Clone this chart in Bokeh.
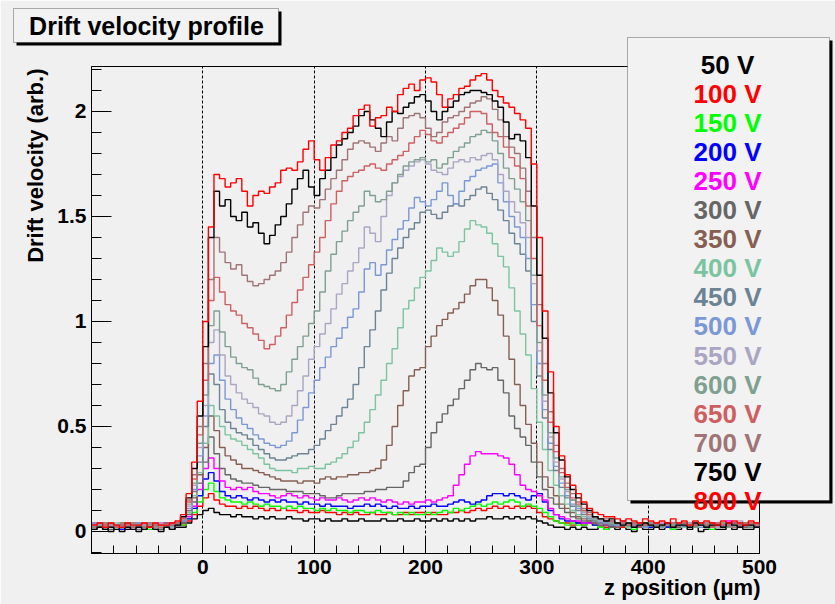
import math
from bokeh.plotting import figure
from bokeh.models import Label, BoxAnnotation, FixedTicker, Range1d, CustomJSTickFormatter
from bokeh.embed import file_html
from bokeh.resources import INLINE

# ---------------- data ----------------
bin_edges = list(range(-100, 505, 5))          # 5 um bins, -100 .. 500

labels = ["50 V", "100 V", "150 V", "200 V", "250 V", "300 V", "350 V", "400 V",
          "450 V", "500 V", "550 V", "600 V", "650 V", "700 V", "750 V", "800 V"]
colors = ["#000000", "#ff0000", "#00ff00", "#0000ff", "#ff00ff", "#666666", "#875f52", "#7cc49f",
          "#6c8394", "#7b98d6", "#aaa5c2", "#7fa091", "#cf5e61", "#a07476", "#000000", "#ff0000"]

v050 = [0.01,0.02,0.01,0.00,0.02,0.01,0.01,0.02,0.00,0.01,0.02,0.01,0.01,0.02,0.01,0.02,0.02,0.04,0.06,0.08,
        0.10,0.11,0.09,0.08,0.08,0.07,0.08,0.07,0.07,0.06,
        0.07,0.06,0.07,0.06,0.06,0.07,0.06,0.06,0.05,0.06,
        0.06,0.05,0.06,0.05,0.05,0.06,0.05,0.05,0.06,0.05,
        0.05,0.05,0.06,0.05,0.05,0.06,0.05,0.05,0.06,0.05,
        0.05,0.06,0.05,0.06,0.05,0.06,0.05,0.06,0.05,0.06,
        0.06,0.07,0.06,0.06,0.07,0.06,0.07,0.06,0.07,0.06,
        0.05,0.04,0.03,0.02,0.02,0.01,0.02,0.01,0.02,0.01,
        0.01,0.02,0.01,0.02,0.01,0.02,0.01,0.00,0.02,0.01,
        0.01,0.02,0.01,0.02,0.01,0.01,0.02,0.01,0.02,0.00,
        0.01,0.02,0.01,0.01,0.02,0.01,0.02,0.01,0.01,0.02]
v100 = [0.03,0.02,0.04,0.02,0.03,0.02,0.03,0.04,0.02,0.03,0.02,0.04,0.03,0.02,0.03,0.04,0.03,0.05,0.08,0.12,
        0.16,0.18,0.15,0.13,0.12,0.12,0.11,0.12,0.11,0.12,
        0.11,0.10,0.11,0.10,0.11,0.10,0.10,0.09,0.10,0.09,
        0.09,0.10,0.09,0.09,0.08,0.09,0.08,0.09,0.08,0.08,
        0.09,0.08,0.08,0.09,0.08,0.08,0.09,0.08,0.09,0.09,
        0.08,0.09,0.08,0.08,0.09,0.09,0.10,0.09,0.10,0.11,
        0.10,0.11,0.12,0.11,0.12,0.11,0.12,0.11,0.12,0.11,
        0.09,0.07,0.06,0.05,0.04,0.04,0.03,0.04,0.03,0.04,
        0.03,0.04,0.02,0.03,0.03,0.02,0.04,0.03,0.02,0.03,
        0.03,0.04,0.02,0.03,0.02,0.03,0.04,0.02,0.03,0.03,
        0.02,0.04,0.03,0.02,0.03,0.03,0.02,0.03,0.04,0.03]
v150 = [0.02,0.03,0.02,0.03,0.01,0.03,0.02,0.02,0.03,0.02,0.01,0.03,0.02,0.03,0.02,0.03,0.03,0.06,0.09,0.14,
        0.20,0.23,0.19,0.16,0.15,0.14,0.14,0.13,0.14,0.13,
        0.12,0.13,0.12,0.12,0.11,0.12,0.11,0.12,0.11,0.11,
        0.10,0.11,0.10,0.11,0.10,0.10,0.09,0.10,0.10,0.09,
        0.09,0.10,0.09,0.09,0.08,0.09,0.08,0.09,0.08,0.08,
        0.09,0.08,0.09,0.10,0.09,0.11,0.10,0.11,0.12,0.13,
        0.12,0.13,0.14,0.13,0.14,0.15,0.14,0.12,0.13,0.12,
        0.11,0.09,0.07,0.05,0.04,0.03,0.04,0.03,0.03,0.04,
        0.03,0.02,0.01,0.03,0.02,0.03,0.02,0.01,0.03,0.02,
        0.02,0.03,0.02,0.03,0.01,0.02,0.03,0.02,0.02,0.03,
        0.02,0.01,0.03,0.02,0.03,0.02,0.02,0.03,0.02,0.02]
v200 = [0.04,0.02,0.03,0.02,0.03,0.01,0.03,0.02,0.04,0.02,0.03,0.02,0.03,0.04,0.02,0.03,0.04,0.06,0.11,0.17,
        0.25,0.28,0.24,0.19,0.17,0.16,0.17,0.16,0.15,0.16,
        0.15,0.14,0.15,0.14,0.15,0.14,0.14,0.13,0.14,0.13,
        0.13,0.12,0.13,0.12,0.12,0.12,0.11,0.12,0.12,0.13,
        0.12,0.13,0.12,0.11,0.12,0.11,0.11,0.12,0.11,0.12,
        0.12,0.13,0.12,0.12,0.13,0.14,0.15,0.14,0.13,0.14,
        0.15,0.17,0.18,0.18,0.17,0.18,0.17,0.16,0.15,0.17,
        0.18,0.14,0.10,0.08,0.06,0.05,0.05,0.04,0.04,0.04,
        0.03,0.04,0.03,0.02,0.04,0.03,0.03,0.02,0.03,0.04,
        0.02,0.03,0.03,0.02,0.04,0.03,0.02,0.03,0.03,0.04,
        0.02,0.03,0.03,0.02,0.03,0.04,0.03,0.02,0.03,0.03]
v250 = [0.03,0.04,0.02,0.03,0.02,0.03,0.02,0.01,0.03,0.02,0.03,0.02,0.04,0.02,0.03,0.03,0.04,0.07,0.12,0.20,
        0.30,0.35,0.30,0.24,0.21,0.20,0.21,0.20,0.21,0.19,
        0.18,0.18,0.17,0.16,0.17,0.18,0.17,0.16,0.17,0.16,
        0.15,0.16,0.15,0.15,0.16,0.15,0.14,0.15,0.16,0.15,
        0.16,0.15,0.14,0.15,0.14,0.13,0.14,0.13,0.14,0.14,
        0.15,0.14,0.15,0.16,0.17,0.22,0.27,0.32,0.36,0.38,
        0.37,0.37,0.37,0.36,0.35,0.32,0.27,0.22,0.20,0.19,
        0.17,0.15,0.11,0.08,0.07,0.06,0.05,0.05,0.04,0.04,
        0.04,0.03,0.03,0.04,0.02,0.03,0.04,0.03,0.02,0.03,
        0.03,0.02,0.04,0.03,0.03,0.02,0.03,0.04,0.02,0.03,
        0.03,0.04,0.02,0.03,0.05,0.03,0.02,0.03,0.03,0.02]
v300 = [0.02,0.03,0.02,0.01,0.03,0.02,0.03,0.02,0.02,0.03,0.02,0.03,0.01,0.03,0.02,0.04,0.04,0.08,0.14,0.23,
        0.33,0.45,0.37,0.30,0.27,0.25,0.24,0.23,0.23,0.22,
        0.21,0.21,0.20,0.20,0.20,0.19,0.19,0.19,0.18,0.18,
        0.18,0.17,0.16,0.16,0.17,0.18,0.18,0.18,0.18,0.19,
        0.19,0.20,0.20,0.21,0.21,0.21,0.24,0.28,0.31,0.32,
        0.40,0.47,0.52,0.56,0.60,0.63,0.68,0.72,0.77,0.80,
        0.78,0.77,0.78,0.72,0.66,0.55,0.49,0.45,0.41,0.33,
        0.26,0.20,0.16,0.13,0.11,0.09,0.07,0.06,0.05,0.05,
        0.04,0.03,0.04,0.02,0.03,0.03,0.02,0.04,0.03,0.02,
        0.03,0.03,0.02,0.03,0.04,0.02,0.03,0.02,0.03,0.03,
        0.04,0.02,0.03,0.03,0.02,0.03,0.02,0.04,0.03,0.03]
v350 = [0.03,0.02,0.03,0.03,0.02,0.04,0.02,0.03,0.02,0.02,0.03,0.02,0.03,0.02,0.04,0.03,0.04,0.09,0.16,0.27,
        0.40,0.55,0.48,0.40,0.36,0.34,0.32,0.30,0.30,0.29,
        0.28,0.27,0.26,0.25,0.24,0.24,0.24,0.23,0.24,0.24,
        0.23,0.25,0.26,0.25,0.26,0.26,0.27,0.27,0.28,0.28,
        0.29,0.30,0.34,0.41,0.50,0.60,0.67,0.74,0.77,0.78,
        0.88,0.93,0.98,1.01,1.04,1.06,1.09,1.13,1.17,1.20,
        1.20,1.16,1.10,1.03,0.93,0.82,0.70,0.60,0.51,0.42,
        0.33,0.26,0.21,0.17,0.13,0.11,0.09,0.07,0.06,0.05,
        0.04,0.04,0.03,0.03,0.02,0.04,0.03,0.03,0.02,0.03,
        0.04,0.02,0.03,0.03,0.02,0.03,0.04,0.03,0.02,0.03,
        0.02,0.03,0.04,0.03,0.02,0.03,0.03,0.02,0.04,0.03]
v400 = [0.02,0.03,0.03,0.02,0.04,0.02,0.02,0.03,0.03,0.02,0.03,0.04,0.02,0.03,0.02,0.04,0.05,0.09,0.17,0.28,
        0.42,0.60,0.55,0.50,0.46,0.44,0.43,0.41,0.39,0.37,
        0.35,0.32,0.30,0.29,0.29,0.29,0.28,0.30,0.30,0.31,
        0.30,0.30,0.32,0.33,0.35,0.37,0.40,0.43,0.47,0.52,
        0.58,0.65,0.72,0.80,0.87,0.97,1.06,1.10,1.16,1.21,
        1.24,1.29,1.35,1.33,1.31,1.33,1.38,1.44,1.48,1.46,
        1.45,1.42,1.37,1.31,1.26,1.16,1.05,0.94,0.84,0.68,
        0.52,0.39,0.29,0.22,0.17,0.13,0.10,0.08,0.07,0.06,
        0.05,0.04,0.04,0.03,0.03,0.04,0.02,0.03,0.03,0.04,
        0.03,0.02,0.03,0.04,0.03,0.03,0.02,0.04,0.03,0.03,
        0.02,0.03,0.04,0.02,0.03,0.03,0.04,0.03,0.02,0.03]
v450 = [0.03,0.02,0.02,0.03,0.02,0.03,0.04,0.02,0.01,0.03,0.02,0.03,0.03,0.02,0.03,0.04,0.05,0.10,0.19,0.33,
        0.50,0.75,0.70,0.58,0.52,0.49,0.47,0.46,0.44,0.41,
        0.39,0.37,0.35,0.34,0.34,0.35,0.36,0.37,0.37,0.39,
        0.41,0.44,0.48,0.51,0.55,0.59,0.63,0.70,0.78,0.88,
        0.96,1.05,1.15,1.23,1.30,1.35,1.40,1.44,1.47,1.52,
        1.53,1.51,1.49,1.52,1.55,1.56,1.55,1.58,1.60,1.63,
        1.64,1.61,1.58,1.53,1.48,1.42,1.37,1.32,1.24,1.00,
        0.74,0.54,0.39,0.29,0.21,0.16,0.12,0.10,0.08,0.06,
        0.05,0.04,0.04,0.03,0.04,0.03,0.03,0.02,0.04,0.03,
        0.03,0.04,0.02,0.03,0.03,0.04,0.03,0.02,0.03,0.04,
        0.03,0.03,0.02,0.04,0.03,0.03,0.04,0.03,0.02,0.04]
v500 = [0.02,0.03,0.02,0.04,0.03,0.02,0.03,0.03,0.02,0.03,0.04,0.02,0.03,0.02,0.03,0.04,0.05,0.11,0.20,0.36,
        0.55,0.80,0.84,0.72,0.63,0.58,0.54,0.51,0.49,0.46,
        0.44,0.42,0.41,0.40,0.41,0.43,0.47,0.53,0.59,0.66,
        0.72,0.78,0.83,0.88,0.92,0.97,1.02,1.06,1.14,1.25,
        1.28,1.22,1.27,1.34,1.39,1.44,1.48,1.54,1.59,1.57,
        1.55,1.58,1.62,1.66,1.60,1.56,1.62,1.67,1.69,1.72,
        1.73,1.74,1.75,1.66,1.57,1.50,1.45,1.40,1.30,1.08,
        0.80,0.58,0.42,0.31,0.23,0.17,0.13,0.11,0.09,0.07,
        0.06,0.05,0.04,0.04,0.03,0.04,0.03,0.03,0.04,0.02,
        0.03,0.04,0.03,0.03,0.02,0.04,0.03,0.03,0.04,0.02,
        0.03,0.03,0.04,0.03,0.03,0.02,0.04,0.03,0.03,0.03]
v550 = [0.04,0.03,0.02,0.03,0.03,0.02,0.03,0.02,0.04,0.03,0.02,0.03,0.04,0.03,0.02,0.04,0.06,0.12,0.22,0.40,
        0.60,0.90,0.96,0.84,0.74,0.70,0.66,0.63,0.61,0.59,
        0.56,0.55,0.52,0.51,0.52,0.55,0.60,0.67,0.74,0.82,
        0.88,0.94,0.99,1.06,1.13,1.18,1.24,1.28,1.35,1.45,
        1.42,1.38,1.50,1.60,1.66,1.69,1.72,1.74,1.76,1.77,
        1.75,1.72,1.71,1.70,1.73,1.76,1.77,1.76,1.78,1.77,
        1.79,1.80,1.77,1.70,1.62,1.57,1.52,1.47,1.40,1.18,
        0.86,0.62,0.45,0.33,0.25,0.19,0.15,0.12,0.09,0.07,
        0.06,0.05,0.05,0.04,0.04,0.03,0.04,0.03,0.03,0.04,
        0.03,0.02,0.04,0.03,0.04,0.03,0.03,0.02,0.04,0.03,
        0.04,0.03,0.02,0.03,0.04,0.03,0.05,0.03,0.04,0.03]
v600 = [0.02,0.03,0.04,0.02,0.03,0.02,0.02,0.04,0.03,0.02,0.03,0.02,0.03,0.03,0.04,0.03,0.06,0.13,0.23,0.42,
        0.65,0.98,1.05,0.95,0.88,0.83,0.80,0.78,0.77,0.73,
        0.70,0.69,0.68,0.67,0.70,0.76,0.82,0.88,0.93,0.99,
        1.05,1.14,1.24,1.32,1.38,1.43,1.48,1.52,1.55,1.62,
        1.60,1.57,1.58,1.62,1.66,1.70,1.74,1.76,1.77,1.78,
        1.76,1.77,1.73,1.75,1.78,1.81,1.83,1.85,1.88,1.89,
        1.91,1.90,1.86,1.80,1.73,1.68,1.63,1.57,1.48,1.22,
        0.90,0.65,0.47,0.35,0.26,0.20,0.15,0.12,0.10,0.08,
        0.06,0.06,0.05,0.04,0.04,0.03,0.04,0.04,0.03,0.03,
        0.04,0.03,0.02,0.04,0.03,0.03,0.04,0.03,0.02,0.03,
        0.04,0.03,0.03,0.04,0.02,0.03,0.04,0.03,0.03,0.04]
v650 = [0.03,0.02,0.03,0.04,0.02,0.03,0.03,0.02,0.03,0.04,0.02,0.03,0.02,0.04,0.03,0.04,0.06,0.14,0.25,0.46,
        0.72,1.10,1.21,1.14,1.08,1.05,1.03,0.99,0.97,0.94,
        0.91,0.87,0.89,0.93,0.97,1.03,1.09,1.15,1.21,1.27,
        1.33,1.40,1.48,1.56,1.62,1.67,1.69,1.71,1.72,1.74,
        1.75,1.73,1.72,1.75,1.77,1.79,1.81,1.85,1.88,1.91,
        1.89,1.86,1.85,1.88,1.90,1.92,1.94,1.97,2.00,2.00,
        1.99,1.94,1.90,1.88,1.83,1.78,1.74,1.68,1.55,1.30,
        0.98,0.72,0.52,0.38,0.28,0.21,0.16,0.13,0.10,0.08,
        0.07,0.06,0.05,0.05,0.04,0.04,0.03,0.04,0.04,0.03,
        0.03,0.04,0.03,0.04,0.02,0.03,0.04,0.03,0.03,0.04,
        0.03,0.02,0.04,0.03,0.03,0.04,0.03,0.03,0.04,0.03]
v700 = [0.02,0.04,0.03,0.02,0.03,0.03,0.04,0.02,0.03,0.02,0.04,0.03,0.03,0.02,0.04,0.04,0.07,0.15,0.27,0.50,
        0.80,1.20,1.40,1.33,1.28,1.25,1.27,1.22,1.19,1.17,
        1.18,1.20,1.22,1.24,1.28,1.33,1.40,1.46,1.52,1.55,
        1.54,1.58,1.63,1.68,1.72,1.77,1.82,1.85,1.86,1.85,
        1.83,1.81,1.85,1.88,1.86,1.92,1.97,1.98,1.99,1.97,
        1.92,1.88,1.90,1.95,1.97,1.98,2.00,2.02,2.04,2.05,
        2.07,2.06,2.01,1.96,1.88,1.83,1.80,1.73,1.62,1.40,
        1.08,0.80,0.57,0.41,0.30,0.23,0.18,0.14,0.11,0.09,
        0.07,0.06,0.06,0.05,0.04,0.05,0.04,0.03,0.04,0.04,
        0.03,0.04,0.03,0.03,0.04,0.03,0.04,0.02,0.03,0.04,
        0.03,0.04,0.03,0.03,0.04,0.02,0.03,0.04,0.03,0.04]
v750 = [0.01,0.02,0.01,0.02,0.01,0.00,0.02,0.01,0.02,0.01,0.02,0.01,0.00,0.02,0.01,0.03,0.07,0.16,0.30,0.55,
        0.88,1.40,1.62,1.55,1.58,1.50,1.48,1.52,1.45,1.47,
        1.42,1.37,1.41,1.46,1.50,1.56,1.63,1.68,1.72,1.64,
        1.60,1.68,1.72,1.78,1.84,1.87,1.90,1.93,1.98,2.00,
        1.96,1.92,1.88,1.95,2.00,1.99,2.02,2.04,2.07,2.08,
        2.05,2.00,1.96,2.00,2.02,2.05,2.08,2.09,2.10,2.10,
        2.09,2.08,2.05,2.02,1.95,1.87,1.89,1.86,1.78,1.55,
        1.22,0.92,0.66,0.47,0.34,0.26,0.20,0.16,0.13,0.10,
        0.07,0.06,0.05,0.06,0.04,0.03,0.04,0.02,0.03,0.04,
        0.03,0.02,0.03,0.04,0.02,0.03,0.03,0.02,0.04,0.03,
        0.02,0.03,0.03,0.02,0.04,0.03,0.02,0.03,0.03,0.02]
v800 = [0.03,0.04,0.02,0.04,0.03,0.02,0.04,0.03,0.03,0.04,0.02,0.04,0.03,0.03,0.04,0.05,0.08,0.18,0.33,0.62,
        1.00,1.45,1.70,1.68,1.64,1.66,1.68,1.62,1.55,1.60,
        1.62,1.61,1.64,1.66,1.72,1.73,1.72,1.76,1.82,1.86,
        1.77,1.72,1.78,1.84,1.86,1.90,1.92,1.98,2.01,2.03,
        1.93,1.97,1.98,2.02,2.00,2.08,2.11,2.13,2.10,2.15,
        2.16,2.14,2.08,2.02,2.06,2.08,2.11,2.12,2.15,2.17,
        2.18,2.15,2.10,2.07,2.04,2.02,1.99,1.96,1.92,1.75,
        1.40,1.05,0.76,0.50,0.36,0.27,0.22,0.18,0.14,0.11,
        0.09,0.08,0.07,0.07,0.06,0.05,0.06,0.05,0.04,0.06,
        0.05,0.04,0.05,0.04,0.06,0.04,0.05,0.03,0.05,0.04,
        0.05,0.04,0.03,0.05,0.04,0.05,0.04,0.03,0.05,0.04]

series = [v050, v100, v150, v200, v250, v300, v350, v400,
          v450, v500, v550, v600, v650, v700, v750, v800]

x_ticks = [0, 100, 200, 300, 400, 500]
x_minor = [-80, -60, -40, -20, 20, 40, 60, 80, 120, 140, 160, 180, 220, 240, 260, 280,
           320, 340, 360, 380, 420, 440, 460, 480]
y_ticks = [0, 0.5, 1, 1.5, 2]
y_minor = [-0.1, 0.1, 0.2, 0.3, 0.4, 0.6, 0.7, 0.8, 0.9, 1.1, 1.2, 1.3, 1.4,
           1.6, 1.7, 1.8, 1.9, 2.1, 2.2]

title_text = "Drift velocity profile"
x_title = "z position (\u03bcm)"
y_title = "Drift velocity (arb.)"

# ---------------- layout ----------------
W, H = 835, 604
FL, FR, FT, FB = 91, 759, 66, 553       # frame edges in canvas pixels
X0, X1 = -100, 500
Y0, Y1 = -0.105, 2.214
FONT = "Liberation Sans"
BG = "#f0f0f0"

p = figure(width=W, height=H, title=None, x_range=Range1d(X0, X1), y_range=Range1d(Y0, Y1),
           output_backend="svg", toolbar_location=None,
           min_border_left=FL, min_border_right=W - FR, min_border_top=FT, min_border_bottom=H - FB,
           styles={"position": "absolute", "left": "0px", "top": "0px"})
p.background_fill_color = BG
p.border_fill_color = BG
p.outline_line_color = "black"
p.outline_line_width = 1

p.xaxis.ticker = FixedTicker(ticks=x_ticks, minor_ticks=x_minor)
p.yaxis.ticker = FixedTicker(ticks=y_ticks, minor_ticks=y_minor)
p.yaxis.formatter = CustomJSTickFormatter(code="return String(tick);")
p.xaxis.formatter = CustomJSTickFormatter(code="return String(tick);")

for ax in p.axis:
    ax.axis_line_color = "black"
    ax.major_tick_line_color = "black"
    ax.minor_tick_line_color = "black"
    ax.major_tick_out = 0
    ax.minor_tick_out = 0
    ax.major_label_text_font = FONT
    ax.major_label_text_font_style = "bold"
    ax.major_label_text_font_size = "21px"
    ax.major_label_text_color = "black"

p.xaxis.major_tick_in = 17
p.xaxis.minor_tick_in = 8
p.xaxis.major_label_standoff = 6
p.yaxis.major_tick_in = 20
p.yaxis.minor_tick_in = 10
p.yaxis.major_label_standoff = 5

p.xgrid.grid_line_color = "black"
p.xgrid.grid_line_dash = "3 2"
p.xgrid.grid_line_width = 1
p.ygrid.grid_line_color = None

# histograms (step outlines), drawn 50 V first so 800 V ends on top
for vals, col in zip(series, colors):
    p.step(x=bin_edges, y=vals + [vals[-1]], mode="after", line_color=col, line_width=1.4)

# ---------------- overlay for the boxes and titles (canvas pixel coordinates) ----------------
ov = figure(width=W, height=H, title=None, x_range=Range1d(0, W), y_range=Range1d(H, 0),
            output_backend="svg", toolbar_location=None, x_axis_location=None, y_axis_location=None,
            min_border=0, min_border_left=0, min_border_right=0, min_border_top=0, min_border_bottom=0,
            styles={"position": "absolute", "left": "0px", "top": "0px", "z-index": "5"})
ov.background_fill_color = None
ov.border_fill_color = None
ov.outline_line_color = None
for g in ov.grid:
    g.visible = False

# axis titles
ov.add_layout(Label(x=35, y=68, text=y_title, angle=math.pi / 2,
                    text_align="right", text_baseline="middle", text_font=FONT,
                    text_font_style="bold", text_font_size="22px", text_color="black"))
ov.add_layout(Label(x=760, y=587, text=x_title,
                    text_align="right", text_baseline="middle", text_font=FONT,
                    text_font_style="bold", text_font_size="22px", text_color="black"))

# title box with shadow
ov.add_layout(BoxAnnotation(left=16, right=281, top=11, bottom=45,
                            fill_color="black", fill_alpha=1, line_color=None))
ov.add_layout(BoxAnnotation(left=13, right=278, top=8, bottom=42,
                            fill_color="#f2f2f2", fill_alpha=1, line_color="black", line_width=1))
ov.add_layout(Label(x=146, y=25, text=title_text, text_align="center",
                    text_baseline="middle", text_font=FONT, text_font_style="bold",
                    text_font_size="25px", text_color="black"))

# legend box with shadow
ov.add_layout(BoxAnnotation(left=630, right=832, top=40, bottom=503,
                            fill_color="black", fill_alpha=1, line_color=None))
ov.add_layout(BoxAnnotation(left=627, right=829, top=37, bottom=500,
                            fill_color="#f2f2f2", fill_alpha=1, line_color="black", line_width=1))
for k, (lab, col) in enumerate(zip(labels, colors)):
    ov.add_layout(Label(x=727, y=64 + 29.1 * k, text=lab, text_align="center",
                        text_baseline="middle", text_font=FONT, text_font_style="bold",
                        text_font_size="26px", text_color=col))

open("out.html", "w").write(file_html([p, ov], INLINE))
